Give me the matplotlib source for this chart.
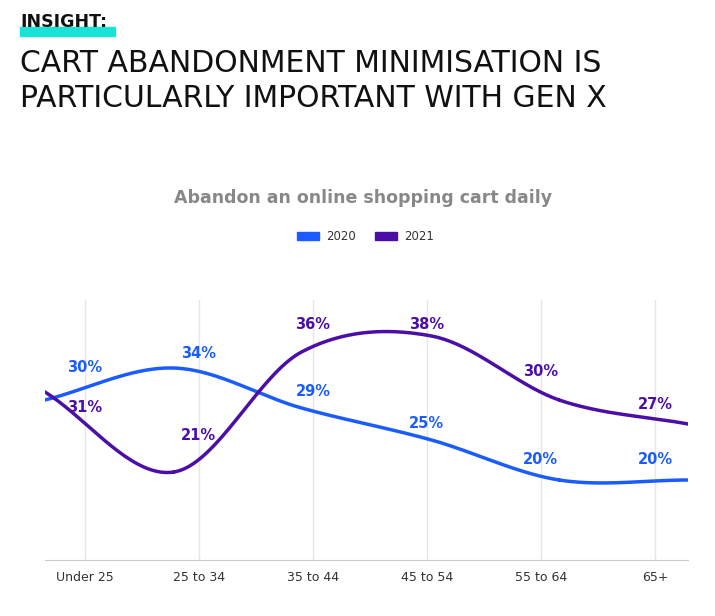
import numpy as np
import matplotlib.pyplot as plt
from matplotlib.patches import Rectangle

categories = ['Under 25', '25 to 34', '35 to 44', '45 to 54', '55 to 64', '65+']
vals_2020 = [30, 34, 29, 25, 20, 20]
vals_2021 = [31, 21, 36, 38, 30, 27]

C2020 = '#1a5cff'
C2021 = '#4b0fa8'

# the curves are drawn across the full band, labels sit on the ticks
line_x = np.array([-0.35, 0.78, 1.90, 3.04, 4.16, 5.29])


def smooth(xs, ys, n=40):
    # catmull-rom through the points
    p = np.column_stack([xs, ys]).astype(float)
    p = np.vstack([p[0] - (p[1] - p[0]), p, p[-1] + (p[-1] - p[-2])])
    out = []
    t = np.linspace(0, 1, n)[:, None]
    for i in range(1, len(p) - 2):
        p0, p1, p2, p3 = p[i - 1], p[i], p[i + 1], p[i + 2]
        seg = 0.5 * ((2 * p1) + (-p0 + p2) * t + (2 * p0 - 5 * p1 + 4 * p2 - p3) * t ** 2
                     + (-p0 + 3 * p1 - 3 * p2 + p3) * t ** 3)
        out.append(seg)
    out = np.vstack(out)
    return out[:, 0], out[:, 1]


fig = plt.figure(figsize=(7.15, 6.16), dpi=100)
W, H = 715, 616
ax = fig.add_axes([45 / W, 1 - 560 / H, (688 - 45) / W, 260 / H])

for vals, col in [(vals_2020, C2020), (vals_2021, C2021)]:
    sx, sy = smooth(line_x, vals)
    ax.plot(sx, sy, color=col, lw=2.5, solid_capstyle='round')

# label offsets (in value units) relative to each point
off_2020 = [4.0, 1.8, 2.0, 2.1, 2.5, 2.5]
off_2021 = [-1.9, 4.6, 3.4, 1.4, 3.5, 2.4]
for i in range(len(categories)):
    ax.text(i, vals_2020[i] + off_2020[i], f'{vals_2020[i]}%', color=C2020,
            ha='center', va='center', fontsize=10.5, fontweight='bold')
    ax.text(i, vals_2021[i] + off_2021[i], f'{vals_2021[i]}%', color=C2021,
            ha='center', va='center', fontsize=10.5, fontweight='bold')

ax.set_xlim(-0.35, 5.29)
ax.set_ylim(10, 42.5)
ax.set_xticks(range(len(categories)))
ax.set_xticklabels(categories, fontsize=9, color='#333333')
ax.set_yticks([])
ax.tick_params(axis='x', length=0, pad=8)
ax.grid(axis='x', color='#e6e6e6', lw=1)
for s in ['top', 'right', 'left']:
    ax.spines[s].set_visible(False)
ax.spines['bottom'].set_color('#cccccc')

fig.patches.append(Rectangle((20 / W, 1 - 36 / H), 95 / W, 9 / H,
                             transform=fig.transFigure, color='#19e3d6', zorder=0))
fig.text(20 / W, 1 - 22 / H, 'INSIGHT:', fontsize=12.5, fontweight='bold',
         va='center', color='#111111')
fig.text(20 / W, 1 - 81 / H, 'CART ABANDONMENT MINIMISATION IS\nPARTICULARLY IMPORTANT WITH GEN X',
         fontsize=21.5, va='center', color='#111111', linespacing=1.25, fontweight='medium')
fig.text(363 / W, 1 - 198 / H, 'Abandon an online shopping cart daily', fontsize=12.5,
         fontweight='bold', color='#888888', ha='center', va='center')

# legend
fig.patches.append(Rectangle((297 / W, 1 - 240 / H), 22 / W, 8 / H, transform=fig.transFigure, color=C2020))
fig.text(326 / W, 1 - 236 / H, '2020', fontsize=8.5, va='center', color='#333333')
fig.patches.append(Rectangle((375 / W, 1 - 240 / H), 22 / W, 8 / H, transform=fig.transFigure, color=C2021))
fig.text(404 / W, 1 - 236 / H, '2021', fontsize=8.5, va='center', color='#333333')

fig.savefig('out.png', dpi=100)
